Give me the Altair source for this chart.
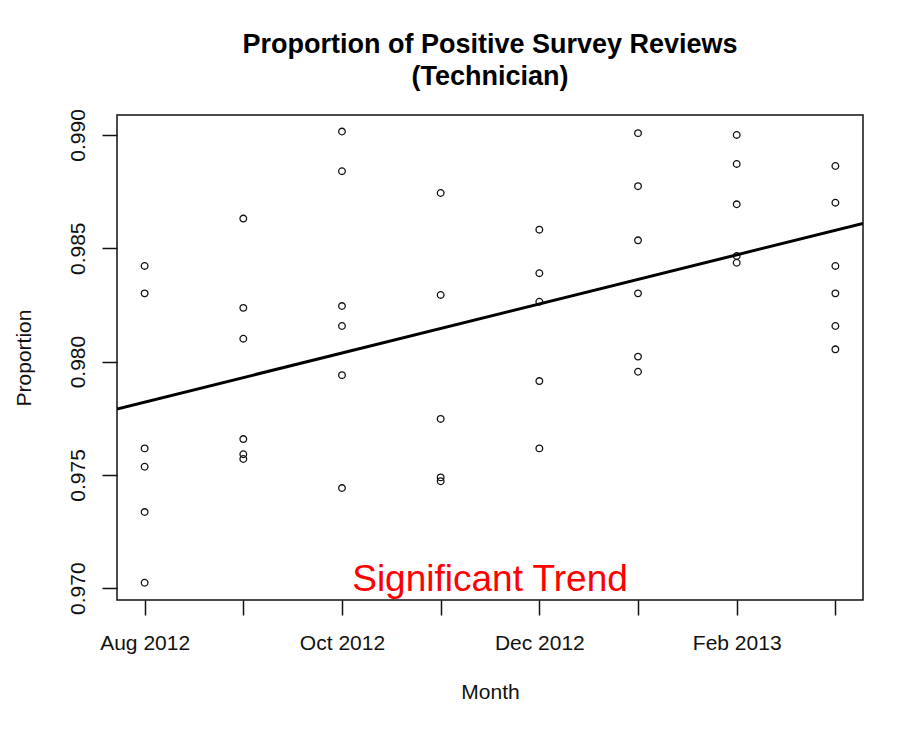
import json
import altair as alt
import pandas as pd

# ---- data ----
month_labels = ["Aug 2012", "Sep 2012", "Oct 2012", "Nov 2012",
                "Dec 2012", "Jan 2013", "Feb 2013", "Mar 2013"]
shown_labels = ["Aug 2012", "", "Oct 2012", "", "Dec 2012", "", "Feb 2013", ""]

aug_2012 = [0.98422, 0.98301, 0.97617, 0.97536, 0.97336, 0.97024]
sep_2012 = [0.98631, 0.98237, 0.98101, 0.97658, 0.97591, 0.97570]
oct_2012 = [0.99015, 0.98840, 0.98245, 0.98157, 0.97940, 0.97442]
nov_2012 = [0.98744, 0.98294, 0.97747, 0.97489, 0.97472]
dec_2012 = [0.98582, 0.98390, 0.98264, 0.97914, 0.97617]
jan_2013 = [0.99008, 0.98774, 0.98535, 0.98301, 0.98022, 0.97955]
feb_2013 = [0.99000, 0.98872, 0.98694, 0.98466, 0.98436]
mar_2013 = [0.98863, 0.98701, 0.98422, 0.98301, 0.98157, 0.98054]

y_ticks = [0.970, 0.975, 0.980, 0.985, 0.990]
annotation_text = "Significant Trend"

# ---- build table ----
series = [aug_2012, sep_2012, oct_2012, nov_2012, dec_2012, jan_2013, feb_2013, mar_2013]
rows = []
for i, vals in enumerate(series):
    for v in vals:
        rows.append({"m": i, "month": month_labels[i], "p": v})
df = pd.DataFrame(rows)

n = len(month_labels) - 1
pad_x = 0.04 * n
x_domain = [-pad_x, n + pad_x]
y_domain = [0.96948, 0.99088]

FONT = "Liberation Sans"
label_expr = json.dumps(shown_labels) + "[datum.value]"

x_scale = alt.Scale(domain=x_domain, nice=False, zero=False)
y_scale = alt.Scale(domain=y_domain, nice=False, zero=False)

x_axis = alt.Axis(
    title="Month", values=list(range(len(month_labels))), labelExpr=label_expr,
    grid=False, domain=False, tickSize=15, tickWidth=1.5, tickColor="#111",
    labelFont=FONT, labelFontSize=21, labelColor="#111", labelPadding=17,
    labelBaseline="top", labelFlush=False, labelOverlap=False,
    titleFont=FONT, titleFontSize=21, titleFontWeight="normal", titleColor="#111",
    titleY=92, titleBaseline="middle",
)
y_axis = alt.Axis(
    title="Proportion", values=y_ticks, format=".3f",
    grid=False, domain=False, tickSize=15, tickWidth=1.5, tickColor="#111",
    labelFont=FONT, labelFontSize=21, labelColor="#111", labelPadding=14,
    labelAngle=270, labelAlign="center", labelBaseline="bottom",
    labelFlush=False, labelOverlap=False,
    titleFont=FONT, titleFontSize=21, titleFontWeight="normal", titleColor="#111",
    titleAngle=270, titleX=-93, titleBaseline="middle",
)

points = alt.Chart(df).mark_point(
    shape="circle", filled=False, size=44, strokeWidth=1.3, color="#111", opacity=1
).encode(
    x=alt.X("m:Q", scale=x_scale, axis=x_axis),
    y=alt.Y("p:Q", scale=y_scale, axis=y_axis),
)

trend = alt.Chart(df).transform_regression(
    "m", "p", extent=x_domain
).mark_line(color="#000", strokeWidth=3, clip=True).encode(
    x=alt.X("m:Q", scale=x_scale),
    y=alt.Y("p:Q", scale=y_scale),
)

ann_df = pd.DataFrame({"m": [3.5], "p": [0.97036], "t": [annotation_text]})
annotation = alt.Chart(ann_df).mark_text(
    color="#ff0000", font=FONT, fontSize=37, baseline="middle", align="center"
).encode(
    x=alt.X("m:Q", scale=x_scale),
    y=alt.Y("p:Q", scale=y_scale),
    text="t:N",
)

chart = alt.layer(points, trend, annotation).properties(
    width=746,
    height=485,
    title=alt.TitleParams(
        text=["Proportion of Positive Survey Reviews", "(Technician)"],
        anchor="middle", frame="group", font=FONT, fontSize=27, fontWeight="bold",
        color="#000", lineHeight=32, baseline="bottom", offset=20, dy=29,
    ),
    autosize=alt.AutoSizeParams(type="none"),
    padding={"left": 117, "top": 115, "right": 45, "bottom": 132},
    background="#ffffff",
).configure_view(stroke="#111", strokeWidth=1.5)

chart.save("out.html", embed_options={"renderer": "svg", "actions": False})
